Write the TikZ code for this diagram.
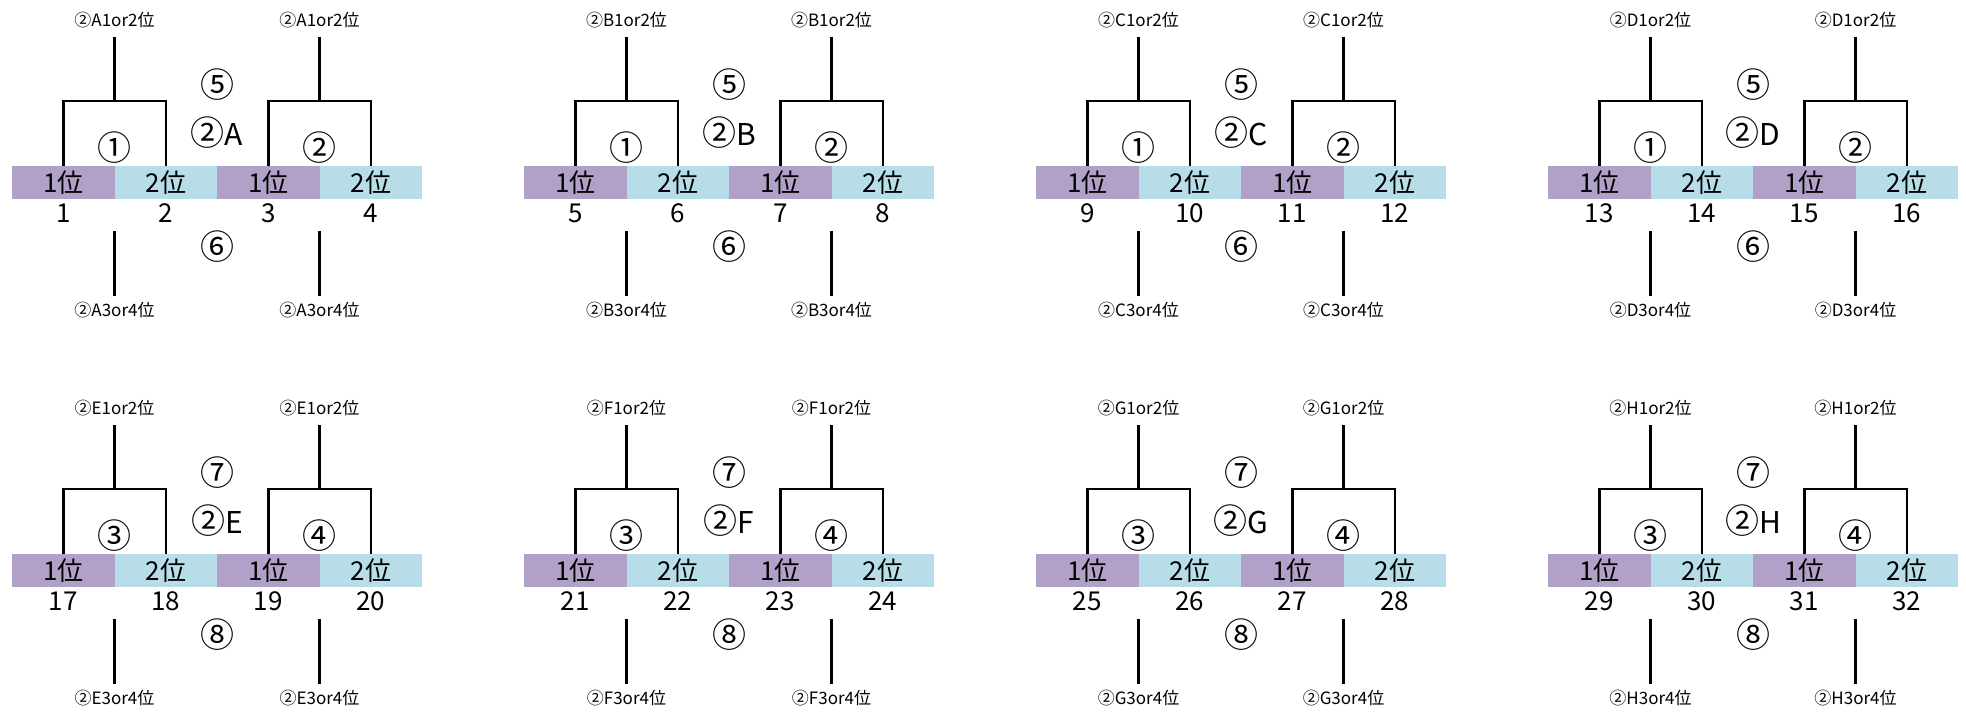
\documentclass[tikz,border=0pt]{standalone}
\usepackage{fontspec}
\setmainfont{Noto Sans CJK JP}
\definecolor{cpurple}{HTML}{B1A0C7}
\definecolor{cblue}{HTML}{B7DEE8}
\begin{document}
\begin{tikzpicture}[x=1pt,y=-1pt,
  cellA/.style={fill=cpurple, minimum width=102.5pt, minimum height=33pt, inner sep=0pt, anchor=north west, font=\fontsize{26}{26}\selectfont},
  cellB/.style={cellA, fill=cblue},
  numtxt/.style={inner sep=0pt, font=\fontsize{26}{26}\selectfont},
  lbl/.style={inner sep=0pt, font=\fontsize{17}{17}\selectfont},
  circ/.style={inner sep=0pt, font=\fontsize{34}{34}\selectfont},
  br/.style={line width=2.7pt}]
\useasboundingbox (0,0) rectangle (1966,717);
\foreach \L [count=\j from 0] in {A,B,C,D,E,F,G,H} {
  \pgfmathtruncatemacro\r{\j/4}
  \pgfmathtruncatemacro\c{mod(\j,4)}
  \pgfmathsetmacro\X{12+512*\c}
  \pgfmathsetmacro\Y{388*\r}
  \pgfmathtruncatemacro\na{4*\j+1}
  \pgfmathtruncatemacro\nb{4*\j+2}
  \pgfmathtruncatemacro\nc{4*\j+3}
  \pgfmathtruncatemacro\nd{4*\j+4}
  \ifnum\r=0
    \def\ca{①}\def\cb{②}\def\cc{⑤}\def\cd{⑥}
  \else
    \def\ca{③}\def\cb{④}\def\cc{⑦}\def\cd{⑧}
  \fi
  % cells
  \node[cellA] (p\j a) at (\X,\Y+166) {1位};
  \node[cellB] (p\j b) at (\X+102.5,\Y+166) {2位};
  \node[cellA] (p\j c) at (\X+205,\Y+166) {1位};
  \node[cellB] (p\j d) at (\X+307.5,\Y+166) {2位};
  % numbers
  \node[numtxt] (n\j a) at (\X+51.25,\Y+213) {\na};
  \node[numtxt] (n\j b) at (\X+153.75,\Y+213) {\nb};
  \node[numtxt] (n\j c) at (\X+256.25,\Y+213) {\nc};
  \node[numtxt] (n\j d) at (\X+358.75,\Y+213) {\nd};
  % labels
  \node[lbl] (t\j a) at (\X+102.5,\Y+20) {②\L 1or2位};
  \node[lbl] (t\j b) at (\X+307.5,\Y+20) {②\L 1or2位};
  \node[lbl] (u\j a) at (\X+102.5,\Y+310) {②\L 3or4位};
  \node[lbl] (u\j b) at (\X+307.5,\Y+310) {②\L 3or4位};
  % circled
  \node[circ] (m\j a) at (\X+102.5,\Y+148) {\ca};
  \node[circ] (m\j b) at (\X+307.5,\Y+148) {\cb};
  \node[circ] (m\j c) at (\X+205,\Y+85) {\cc};
  \node[circ] (m\j g) at (\X+205,\Y+133) {②{\fontsize{30}{30}\selectfont\L}};
  \node[circ] (m\j d) at (\X+205,\Y+247) {\cd};
  % brackets
  \coordinate (j\j a) at (\X+102.5,\Y+101);
  \coordinate (j\j b) at (\X+307.5,\Y+101);
  \draw[br] (p\j a.north) |- (j\j a) -| (p\j b.north);
  \draw[br] (p\j c.north) |- (j\j b) -| (p\j d.north);
  \draw[br] (j\j a) -- ++(0,-64);
  \draw[br] (j\j b) -- ++(0,-64);
  \coordinate (k\j a) at (\X+102.5,\Y+231);
  \coordinate (k\j b) at (\X+307.5,\Y+231);
  \draw[br] (k\j a) -- ++(0,65);
  \draw[br] (k\j b) -- ++(0,65);
}
\end{tikzpicture}
\end{document}
